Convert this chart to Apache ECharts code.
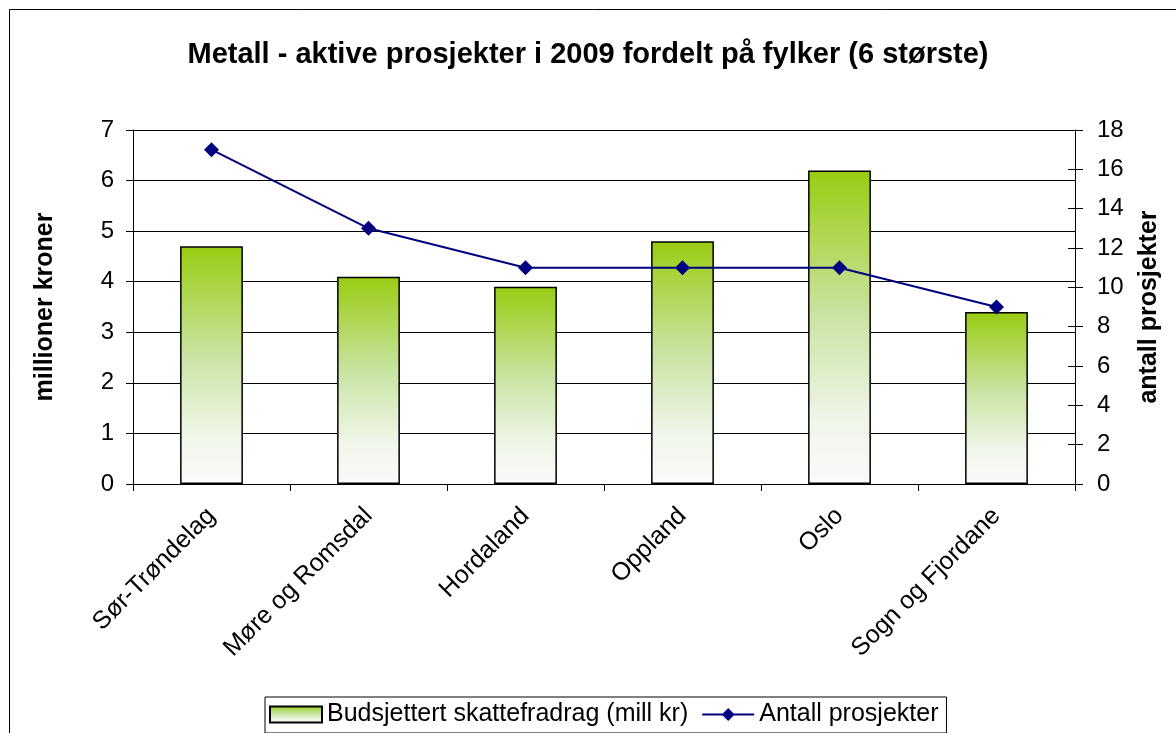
<!DOCTYPE html>
<html>
<head>
<meta charset="utf-8">
<script src="https://cdn.jsdelivr.net/npm/echarts@6/dist/echarts.min.js"></script>
<style>
  html, body { margin: 0; padding: 0; background: #fff; }
  #chart { width: 1176px; height: 733px; }
</style>
</head>
<body>
<div id="chart"></div>
<script>
// data
const fylker = ['Sør-Trøndelag', 'Møre og Romsdal', 'Hordaland', 'Oppland', 'Oslo', 'Sogn og Fjordane']
const skattefradrag = [4.7, 4.1, 3.9, 4.8, 6.2, 3.4]
const prosjekter = [17, 13, 11, 11, 11, 9]

const myChart = echarts.init(document.getElementById('chart'))

const font = 'Liberation Sans, Arial, sans-serif'

const option = {
  animation: false,
  textStyle: { fontFamily: font },
  title: {
    text: 'Metall - aktive prosjekter i 2009 fordelt på fylker (6 største)',
    left: 'center',
    top: 35,
    textStyle: { fontSize: 29, fontWeight: 'bold', color: '#000', fontFamily: font }
  },
  graphic: [
    {
      type: 'rect',
      shape: { x: 9.5, y: 9.5, width: 1180, height: 740 },
      style: { fill: 'none', stroke: '#000', lineWidth: 1 },
      silent: true
    }
  ],
  legend: {
    top: 697,
    left: 265,
    itemGap: 13,
    itemWidth: 52,
    itemHeight: 16,
    padding: [5, 8, 6, 4],
    borderColor: '#000',
    borderWidth: 1,
    textStyle: { fontSize: 25, color: '#000', fontFamily: font },
    data: [
      { name: 'Budsjettert skattefradrag (mill kr)', icon: 'rect' },
      { name: 'Antall prosjekter' }
    ]
  },
  grid: {
    left: 133,
    right: 101,
    top: 130,
    bottom: 249
  },
  xAxis: {
    type: 'category',
    data: fylker,
    axisLine: { lineStyle: { color: '#000', width: 1 } },
    axisTick: { show: true, length: 7, lineStyle: { color: '#000' } },
    axisLabel: {
      rotate: 45,
      fontSize: 25,
      color: '#000',
      margin: 28,
      fontFamily: font
    }
  },
  yAxis: [
    {
      type: 'value',
      min: 0,
      max: 7,
      interval: 1,
      name: 'millioner kroner',
      nameLocation: 'middle',
      nameGap: 75,
      nameTextStyle: { fontSize: 25, fontWeight: 'bold', color: '#000', fontFamily: font },
      axisLine: { show: true, lineStyle: { color: '#000' } },
      axisTick: { show: true, length: 7, lineStyle: { color: '#000' } },
      axisLabel: { fontSize: 24, color: '#000', margin: 19, fontFamily: font },
      splitLine: { show: true, lineStyle: { color: '#000', width: 1 } }
    },
    {
      type: 'value',
      min: 0,
      max: 18,
      interval: 2,
      name: 'antall prosjekter',
      nameLocation: 'middle',
      nameGap: 62,
      nameRotate: 90,
      nameTextStyle: { fontSize: 25, fontWeight: 'bold', color: '#000', fontFamily: font },
      axisLine: { show: true, lineStyle: { color: '#000' } },
      axisTick: { show: true, length: 8, lineStyle: { color: '#000' } },
      axisLabel: { fontSize: 24, color: '#000', margin: 22, fontFamily: font },
      splitLine: { show: false }
    },
    {
      // inner half of the crossing ticks on the right axis
      type: 'value',
      position: 'right',
      min: 0,
      max: 18,
      interval: 2,
      axisLine: { show: false },
      axisTick: { show: true, inside: true, length: 7, lineStyle: { color: '#000' } },
      axisLabel: { show: false },
      splitLine: { show: false }
    }
  ],
  series: [
    {
      name: 'Budsjettert skattefradrag (mill kr)',
      type: 'bar',
      data: skattefradrag,
      barWidth: '40%',
      itemStyle: {
        color: new echarts.graphic.LinearGradient(0, 0, 0, 1, [
          { offset: 0, color: '#99cc11' },
          { offset: 0.45, color: '#c8e3a0' },
          { offset: 0.8, color: '#f0f6ea' },
          { offset: 1, color: '#fafafa' }
        ]),
        borderColor: '#000',
        borderWidth: 1.5
      }
    },
    {
      name: 'Antall prosjekter',
      type: 'line',
      yAxisIndex: 1,
      data: prosjekter,
      symbol: 'diamond',
      symbolSize: 15,
      lineStyle: { color: '#000080', width: 2 },
      itemStyle: { color: '#000080' }
    }
  ]
}

myChart.setOption(option)

window.addEventListener('resize', () => {
  myChart.resize()
})
</script>
</body>
</html>
